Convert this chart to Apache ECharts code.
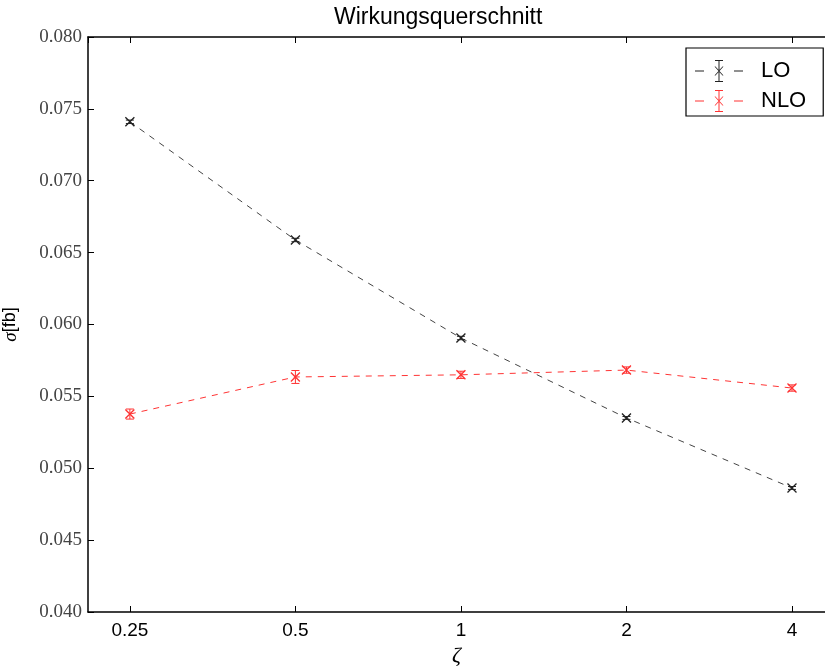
<!DOCTYPE html>
<html>
<head>
<meta charset="utf-8">
<script src="https://cdn.jsdelivr.net/npm/echarts@6/dist/echarts.min.js"></script>
<style>
  html, body { margin: 0; padding: 0; background: #fff; }
  #chart { width: 825px; height: 666px; }
</style>
</head>
<body>
<div id="chart"></div>
<script>
// zeta values (log axis, base 2)
var zeta = [0.25, 0.5, 1, 2, 4];
var loValues = [0.07410, 0.06588, 0.05906, 0.05350, 0.04863];
var loErrors = [0.00012, 0.00012, 0.00012, 0.00010, 0.00010];
var nloValues = [0.05377, 0.05635, 0.05650, 0.05683, 0.05558];
var nloErrors = [0.00035, 0.00045, 0.00025, 0.00022, 0.00022];

var loColor = '#222';
var nloColor = '#ff3333';

function points(vals) {
  return zeta.map(function (z, i) { return [z, vals[i]]; });
}
function bars(vals, errs) {
  return zeta.map(function (z, i) { return [z, vals[i] - errs[i], vals[i] + errs[i]]; });
}

function errorBarItem(color) {
  return function (params, api) {
    var x = api.value(0);
    var lo = api.coord([x, api.value(1)]);
    var hi = api.coord([x, api.value(2)]);
    var hw = 4;
    var st = { stroke: color, lineWidth: 1 };
    return {
      type: 'group',
      children: [
        { type: 'line', shape: { x1: lo[0], y1: lo[1], x2: hi[0], y2: hi[1] }, style: st },
        { type: 'line', shape: { x1: lo[0] - hw, y1: lo[1], x2: lo[0] + hw, y2: lo[1] }, style: st },
        { type: 'line', shape: { x1: hi[0] - hw, y1: hi[1], x2: hi[0] + hw, y2: hi[1] }, style: st }
      ]
    };
  };
}

var crossSymbol = 'path://M0,0L10,10M10,0L0,10';
var legendIcon = 'path://M0,11.5h9v1h-9Z M39,11.5h9v1h-9Z M23.5,1h1v22h-1Z M20,1h8v1h-8Z M20,22h8v1h-8Z ' +
  'M19.5,7.5L20.5,7.5L28.5,16.5L27.5,16.5Z M27.5,7.5L28.5,7.5L20.5,16.5L19.5,16.5Z';

var xMin = 0.2098, xMax = 4.593;

var chart = echarts.init(document.getElementById('chart'));
var option = {
  animation: false,
  title: {
    text: 'Wirkungsquerschnitt',
    left: 329,
    top: 1,
    textStyle: { fontFamily: 'Liberation Sans', fontSize: 23, fontWeight: 'normal', color: '#000' }
  },
  legend: {
    left: 686,
    top: 48,
    orient: 'vertical',
    padding: [12, 17, 4, 9],
    itemGap: 8,
    itemWidth: 48,
    itemHeight: 25,
    borderColor: '#000',
    borderWidth: 1.2,
    textStyle: { fontFamily: 'Liberation Sans', fontSize: 22, color: '#000', padding: [0, 0, 0, 13] },
    data: [
      { name: 'LO', icon: legendIcon, itemStyle: { color: loColor, borderWidth: 0 } },
      { name: 'NLO', icon: legendIcon, itemStyle: { color: nloColor, borderWidth: 0 } }
    ]
  },
  grid: {
    left: 88,
    right: 0,
    top: 37,
    bottom: 54,
    outerBoundsMode: 'none'
  },
  xAxis: [{
    type: 'log',
    logBase: 2,
    min: xMin,
    max: xMax,
    name: 'ζ',
    nameLocation: 'middle',
    nameGap: 32,
    nameTextStyle: { fontFamily: 'Liberation Serif', fontStyle: 'italic', fontSize: 22, color: '#000' },
    axisLine: { lineStyle: { color: '#000', width: 1.5 } },
    axisTick: { inside: true, length: 6, lineStyle: { color: '#000' } },
    splitLine: { show: false },
    minorTick: { show: false },
    axisLabel: {
      showMinLabel: false,
      showMaxLabel: false,
      margin: 9,
      fontFamily: 'Liberation Sans',
      fontSize: 19,
      color: '#000',
      formatter: function (v) { return String(+v.toPrecision(3)); }
    }
  }, {
    type: 'log',
    logBase: 2,
    position: 'top',
    min: xMin,
    max: xMax,
    axisLine: { show: true, lineStyle: { color: '#000', width: 1.5 } },
    axisTick: { inside: true, length: 6, lineStyle: { color: '#000' } },
    axisLabel: { show: false },
    splitLine: { show: false }
  }],
  yAxis: {
    type: 'value',
    min: 0.04,
    max: 0.08,
    interval: 0.005,
    name: '{s|σ}[fb]',
    nameLocation: 'middle',
    nameGap: 68,
    nameRotate: 90,
    nameTextStyle: {
      fontFamily: 'Liberation Sans', fontSize: 18, color: '#000',
      rich: { s: { fontFamily: 'Liberation Serif', fontStyle: 'italic', fontSize: 19, color: '#000' } }
    },
    axisLine: { show: true, lineStyle: { color: '#000', width: 1.5 } },
    axisTick: { show: true, inside: true, length: 6, lineStyle: { color: '#000' } },
    splitLine: { show: false },
    axisLabel: {
      margin: 6,
      fontFamily: 'Liberation Serif',
      fontSize: 19,
      color: '#444',
      formatter: function (v) { return v.toFixed(3); }
    }
  },
  series: [
    {
      name: 'LO',
      type: 'line',
      data: points(loValues),
      symbol: crossSymbol,
      symbolSize: 9,
      itemStyle: { color: 'rgba(0,0,0,0)', borderColor: loColor, borderWidth: 1.3 },
      lineStyle: { color: '#444', width: 1, type: [6, 6] },
      z: 3
    },
    {
      name: 'NLO',
      type: 'line',
      data: points(nloValues),
      symbol: crossSymbol,
      symbolSize: 9,
      itemStyle: { color: 'rgba(0,0,0,0)', borderColor: nloColor, borderWidth: 1.3 },
      lineStyle: { color: nloColor, width: 1, type: [6, 6] },
      z: 3
    },
    {
      name: 'LO',
      type: 'custom',
      data: bars(loValues, loErrors),
      encode: { x: 0, y: [1, 2] },
      renderItem: errorBarItem(loColor),
      z: 4
    },
    {
      name: 'NLO',
      type: 'custom',
      data: bars(nloValues, nloErrors),
      encode: { x: 0, y: [1, 2] },
      renderItem: errorBarItem(nloColor),
      z: 4
    }
  ]
};
chart.setOption(option);
</script>
</body>
</html>
